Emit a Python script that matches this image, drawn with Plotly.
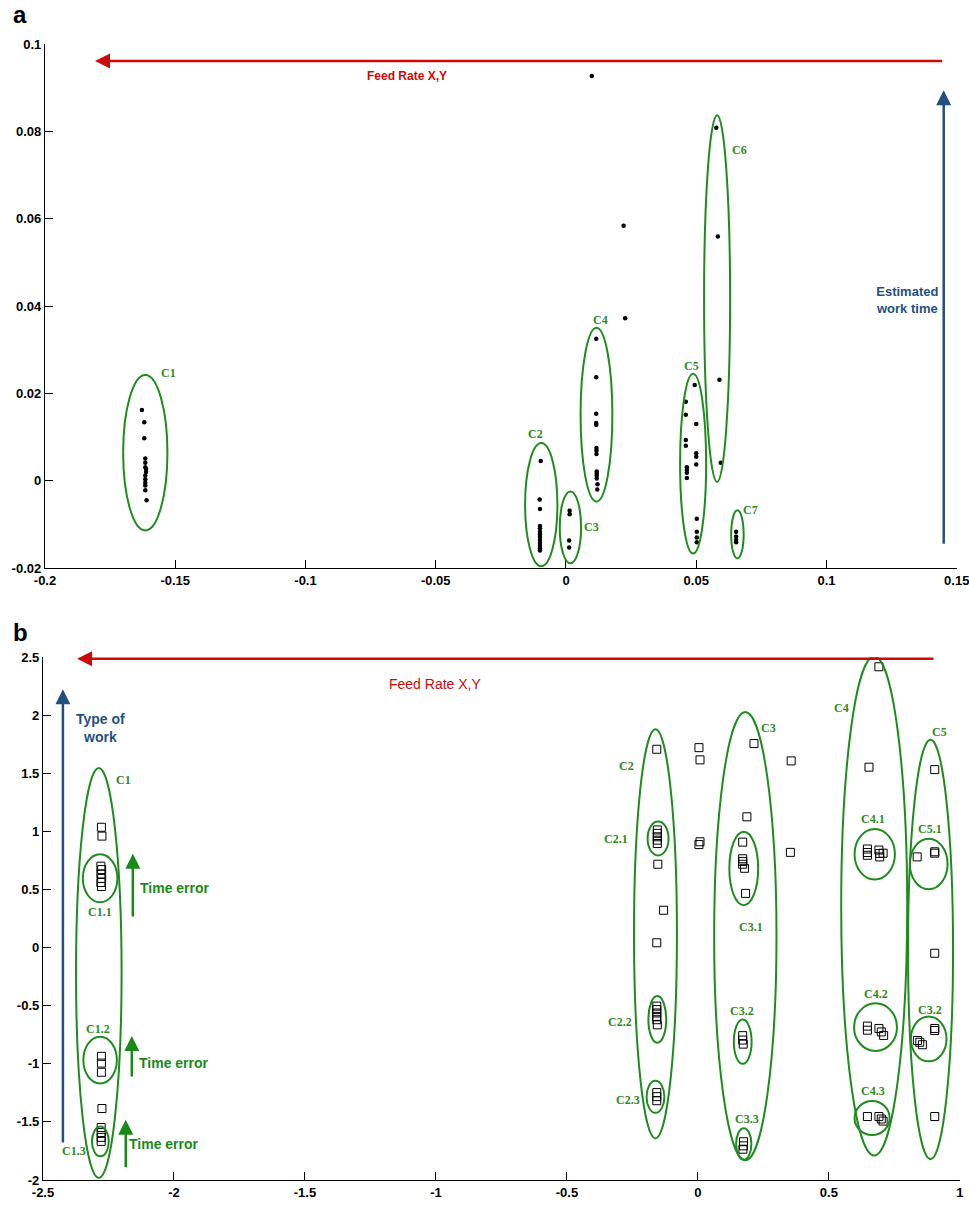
import plotly.graph_objects as go

# ---------------- Panel a data ----------------
a_c1_x = [-0.1628, -0.1619, -0.1619, -0.1615, -0.1615, -0.1615, -0.1612, -0.1612, -0.1615, -0.1615, -0.1615, -0.1615, -0.1615, -0.1610]
a_c1_y = [0.0162, 0.0134, 0.0097, 0.0051, 0.0041, 0.0031, 0.0027, 0.0020, 0.0012, 0.0003, -0.0005, -0.0011, -0.0022, -0.0045]
a_c2_x = [-0.0097, -0.0101, -0.0100, -0.0100, -0.0100, -0.0100, -0.0100, -0.0100, -0.0100, -0.0100, -0.0100, -0.0100, -0.0100]
a_c2_y = [0.0045, -0.0043, -0.0065, -0.0104, -0.0109, -0.0117, -0.0123, -0.0129, -0.0136, -0.0142, -0.0149, -0.0155, -0.0160]
a_c3_x = [0.0014, 0.0014, 0.0012, 0.0012]
a_c3_y = [-0.0069, -0.0077, -0.0137, -0.0153]
a_c4_x = [0.0116, 0.0116, 0.0116, 0.0116, 0.0116, 0.0117, 0.0117, 0.0117, 0.0118, 0.0118, 0.0118, 0.0118, 0.0121, 0.0120]
a_c4_y = [0.0325, 0.0237, 0.0153, 0.0132, 0.0128, 0.0075, 0.0069, 0.0061, 0.0021, 0.0016, 0.0011, 0.0005, -0.0008, -0.0020]
a_c5_x = [0.0494, 0.0460, 0.0460, 0.0500, 0.0460, 0.0460, 0.0500, 0.0500, 0.0500, 0.0464, 0.0464, 0.0464, 0.0464, 0.0502, 0.0502, 0.0502, 0.0502]
a_c5_y = [0.0219, 0.0181, 0.0151, 0.0130, 0.0093, 0.0080, 0.0063, 0.0055, 0.0037, 0.0031, 0.0025, 0.0018, 0.0006, -0.0087, -0.0117, -0.0130, -0.0141]
a_c6_x = [0.0577, 0.0583, 0.0589, 0.0594]
a_c6_y = [0.0808, 0.0559, 0.0231, 0.0041]
a_c7_x = [0.0653, 0.0653, 0.0653, 0.0653]
a_c7_y = [-0.0117, -0.0128, -0.0136, -0.0141]
a_other_x = [0.0099, 0.0221, 0.0227]
a_other_y = [0.0927, 0.0584, 0.0372]

a_clusters = ["C1", "C2", "C3", "C4", "C5", "C6", "C7"]
a_ell_cx = [-0.1615, -0.0095, 0.0017, 0.0117, 0.0488, 0.0580, 0.0658]
a_ell_cy = [0.0064, -0.0055, -0.0107, 0.0151, 0.0039, 0.0417, -0.0123]
a_ell_rx = [0.0085, 0.0062, 0.0041, 0.0061, 0.0050, 0.0050, 0.0024]
a_ell_ry = [0.0178, 0.0141, 0.0082, 0.0199, 0.0206, 0.0420, 0.0055]
a_lab_x = [-0.1525, -0.0116, 0.0096, 0.0133, 0.0483, 0.0665, 0.0707]
a_lab_y = [0.0246, 0.0107, -0.0106, 0.0369, 0.0263, 0.0758, -0.0068]

a_xticks = [-0.2, -0.15, -0.1, -0.05, 0, 0.05, 0.1, 0.15]
a_xticktext = ["-0.2", "-0.15", "-0.1", "-0.05", "0", "0.05", "0.1", "0.15"]
a_yticks = [-0.02, 0, 0.02, 0.04, 0.06, 0.08, 0.1]
a_yticktext = ["-0.02", "0", "0.02", "0.04", "0.06", "0.08", "0.1"]

# ---------------- Panel b data ----------------
b_c1_x = [-2.277, -2.275, -2.279, -2.276, -2.279, -2.276, -2.279, -2.277, -2.277, -2.277, -2.277, -2.275, -2.278, -2.278, -2.278, -2.278]
b_c1_y = [1.035, 0.959, 0.700, 0.671, 0.633, 0.595, 0.560, 0.525, -0.936, -0.994, -1.073, -1.385, -1.548, -1.592, -1.633, -1.668]
b_c2_x = [-0.157, -0.155, -0.155, -0.155, -0.155, -0.155, -0.153, -0.131, -0.157, -0.157, -0.157, -0.157, -0.157, -0.157, -0.155, -0.157, -0.157, -0.157]
b_c2_y = [1.706, 1.012, 0.983, 0.953, 0.924, 0.895, 0.717, 0.321, 0.041, -0.504, -0.534, -0.563, -0.592, -0.621, -0.665, -1.248, -1.283, -1.318]
b_mid_x = [0.004, 0.008, 0.008, 0.004]
b_mid_y = [1.720, 1.615, 0.910, 0.886]
b_c3_x = [0.214, 0.356, 0.187, 0.171, 0.171, 0.171, 0.171, 0.178, 0.182, 0.353, 0.171, 0.171, 0.173, 0.174, 0.174, 0.172]
b_c3_y = [1.755, 1.606, 1.125, 0.907, 0.764, 0.741, 0.717, 0.682, 0.466, 0.819, -0.758, -0.796, -0.831, -1.671, -1.706, -1.735]
b_c4_x = [0.691, 0.653, 0.647, 0.647, 0.647, 0.691, 0.694, 0.694, 0.707, 0.647, 0.647, 0.691, 0.700, 0.709, 0.647, 0.691, 0.700, 0.707]
b_c4_y = [2.416, 1.552, 0.848, 0.818, 0.794, 0.839, 0.809, 0.780, 0.812, -0.676, -0.711, -0.696, -0.726, -0.756, -1.454, -1.454, -1.475, -1.493]
b_c5_x = [0.904, 0.904, 0.904, 0.837, 0.904, 0.904, 0.904, 0.838, 0.847, 0.857, 0.904]
b_c5_y = [1.531, 0.824, 0.812, 0.780, -0.049, -0.696, -0.714, -0.800, -0.815, -0.836, -1.454]

b_clusters = ["C1", "C1.1", "C1.2", "C1.3", "C2", "C2.1", "C2.2", "C2.3",
              "C3", "C3.1", "C3.2", "C3.3", "C4", "C4.1", "C4.2", "C4.3",
              "C5", "C5.1", "C3.2"]
b_ell_cx = [-2.287, -2.282, -2.282, -2.281, -0.162, -0.152, -0.155, -0.162,
            0.181, 0.175, 0.171, 0.175, 0.673, 0.675, 0.678, 0.665,
            0.888, 0.881, 0.881]
b_ell_cy = [-0.219, 0.596, -0.968, -1.668, 0.118, 0.939, -0.618, -1.284,
            0.098, 0.681, -0.810, -1.690, 0.358, 0.803, -0.685, -1.466,
            -0.016, 0.719, -0.786]
b_ell_rx = [0.087, 0.066, 0.064, 0.032, 0.082, 0.040, 0.034, 0.034,
            0.119, 0.055, 0.034, 0.029, 0.126, 0.077, 0.082, 0.067,
            0.086, 0.072, 0.068]
b_ell_ry = [1.764, 0.206, 0.201, 0.128, 1.760, 0.146, 0.201, 0.138,
            1.929, 0.316, 0.190, 0.136, 2.147, 0.217, 0.205, 0.146,
            1.805, 0.218, 0.193]
b_lab_x = [-2.193, -2.281, -2.290, -2.380, -0.271, -0.312, -0.299, -0.267,
           0.271, 0.201, 0.169, 0.188, 0.547, 0.668, 0.681, 0.668,
           0.921, 0.885, 0.885]
b_lab_y = [1.443, 0.303, -0.700, -1.749, 1.560, 0.933, -0.644, -1.312,
           1.892, 0.175, -0.548, -1.472, 2.059, 1.109, -0.399, -1.237,
           1.858, 1.020, -0.533]

b_xticks = [-2.5, -2, -1.5, -1, -0.5, 0, 0.5, 1]
b_xticktext = ["-2.5", "-2", "-1.5", "-1", "-0.5", "0", "0.5", "1"]
b_yticks = [-2, -1.5, -1, -0.5, 0, 0.5, 1, 1.5, 2, 2.5]
b_yticktext = ["-2", "-1.5", "-1", "-0.5", "0", "0.5", "1", "1.5", "2", "2.5"]

# Time error arrows (panel b)
te_x = [-2.157, -2.161, -2.184]
te_tail = [0.254, -1.122, -1.904]
te_tip = [0.808, -0.761, -1.481]
te_text_x = [-2.139, -2.142, -2.178]
te_text_y = [0.516, -0.991, -1.691]

# ---------------- Styles ----------------
W, H = 969, 1213
GREEN = "#1f8c1f"
LABGREEN = "#2f8a22"
RED = "#cc0a0a"
BLUE = "#24507f"
W_px = lambda p: p / W
H_px = lambda p: 1 - p / H

fig = go.Figure()

def add_points(xs, ys, xa, ya, kind):
    if kind == "dot":
        marker = dict(symbol="circle", size=4.5, color="black", line=dict(width=0))
    else:
        marker = dict(symbol="square-open", size=8, color="black", line=dict(width=1, color="black"))
    fig.add_trace(go.Scatter(x=xs, y=ys, mode="markers", marker=marker,
                             xaxis=xa, yaxis=ya, showlegend=False, hoverinfo="skip"))

for xs, ys in [(a_c1_x, a_c1_y), (a_c2_x, a_c2_y), (a_c3_x, a_c3_y), (a_c4_x, a_c4_y),
               (a_c5_x, a_c5_y), (a_c6_x, a_c6_y), (a_c7_x, a_c7_y), (a_other_x, a_other_y)]:
    add_points(xs, ys, "x", "y", "dot")

for xs, ys in [(b_c1_x, b_c1_y), (b_c2_x, b_c2_y), (b_mid_x, b_mid_y), (b_c3_x, b_c3_y),
               (b_c4_x, b_c4_y), (b_c5_x, b_c5_y)]:
    add_points(xs, ys, "x2", "y2", "square")

shapes = []
annotations = []

def add_ellipses(cx, cy, rx, ry, xref, yref):
    for a, b, c, d in zip(cx, cy, rx, ry):
        shapes.append(dict(type="circle", xref=xref, yref=yref,
                           x0=a - c, x1=a + c, y0=b - d, y1=b + d,
                           line=dict(color=GREEN, width=2)))

def add_labels(names, lx, ly, xref, yref):
    for n, a, b in zip(names, lx, ly):
        annotations.append(dict(x=a, y=b, xref=xref, yref=yref, text="<b>%s</b>" % n,
                                showarrow=False, font=dict(family="Liberation Serif, Times New Roman, serif",
                                                           size=12, color=LABGREEN)))

add_ellipses(a_ell_cx, a_ell_cy, a_ell_rx, a_ell_ry, "x", "y")
add_labels(a_clusters, a_lab_x, a_lab_y, "x", "y")
add_ellipses(b_ell_cx, b_ell_cy, b_ell_rx, b_ell_ry, "x2", "y2")
add_labels(b_clusters, b_lab_x, b_lab_y, "x2", "y2")

def arrow(x0, y0, x1, y1, xref, yref, color, width, size=1.0):
    annotations.append(dict(x=x1, y=y1, ax=x0, ay=y0, xref=xref, yref=yref,
                            axref=xref, ayref=yref, text="", showarrow=True,
                            arrowhead=2, arrowsize=size, arrowwidth=width, arrowcolor=color))

def text(x, y, s, xref, yref, color, size, bold=True, xanchor="center", family="Liberation Sans, Arial, sans-serif"):
    annotations.append(dict(x=x, y=y, xref=xref, yref=yref, showarrow=False,
                            text=("<b>%s</b>" % s) if bold else s, xanchor=xanchor,
                            font=dict(family=family, size=size, color=color)))

# Panel a arrows and texts
arrow(0.145, 0.0961, -0.1808, 0.0961, "x", "y", RED, 2.5, 1.2)
text(-0.061, 0.0927, "Feed Rate X,Y", "x", "y", RED, 12)
arrow(0.145, -0.0148, 0.145, 0.0894, "x", "y", BLUE, 2.5, 1.2)
text(0.131, 0.0414, "Estimated<br>work time", "x", "y", BLUE, 13)

# Panel b arrows and texts
arrow(0.905, 2.484, -2.37, 2.484, "x2", "y2", RED, 2.5, 1.2)
text(-1.004, 2.268, "Feed Rate X,Y", "x2", "y2", RED, 14, bold=False)
arrow(-2.424, -1.691, -2.424, 2.222, "x2", "y2", BLUE, 2.5, 1.2)
text(-2.280, 1.886, "Type of<br>work", "x2", "y2", BLUE, 14)
for xx, t0, t1, tx, ty in zip(te_x, te_tail, te_tip, te_text_x, te_text_y):
    arrow(xx, t0, xx, t1, "x2", "y2", "#178a17", 2.5, 1.2)
    text(tx, ty, "Time error", "x2", "y2", "#178a17", 14, xanchor="left")

# Panel letters
annotations.append(dict(x=W_px(20), y=H_px(15), xref="paper", yref="paper", showarrow=False,
                        xanchor="center", yanchor="middle",
                        text="<b>a</b>", font=dict(family="Liberation Sans, Arial", size=24, color="black")))
annotations.append(dict(x=W_px(20), y=H_px(632), xref="paper", yref="paper", showarrow=False,
                        xanchor="center", yanchor="middle",
                        text="<b>b</b>", font=dict(family="Liberation Sans, Arial", size=24, color="black")))

xtickfont = dict(family="Liberation Sans Narrow, Arial Narrow, Liberation Sans, Arial", size=13, color="black", weight="bold")
ytickfont = dict(family="Liberation Sans, Arial", size=13, color="black", weight="bold")
axis_common = dict(showline=True, linecolor="black", linewidth=1.3, ticks="inside", ticklen=8,
                   tickcolor="black", tickwidth=1.3, showgrid=False, zeroline=False, mirror=False,
                   automargin=False, ticklabeloverflow="allow")

fig.update_layout(
    width=W, height=H, autosize=False, margin=dict(l=0, r=0, t=0, b=0, pad=0),
    paper_bgcolor="white", plot_bgcolor="white", showlegend=False,
    xaxis=dict(domain=[W_px(45), W_px(957)], range=[-0.2, 0.1501], anchor="y",
               tickvals=a_xticks, ticktext=a_xticktext, tickfont=xtickfont, **axis_common),
    yaxis=dict(domain=[H_px(568), H_px(44)], range=[-0.02, 0.1], anchor="x",
               tickvals=a_yticks, ticktext=a_yticktext, tickfont=ytickfont, **axis_common),
    xaxis2=dict(domain=[W_px(43), W_px(960)], range=[-2.5, 1.0005], anchor="y2",
                tickvals=b_xticks, ticktext=b_xticktext, tickfont=xtickfont, **axis_common),
    yaxis2=dict(domain=[H_px(1180), H_px(657)], range=[-2, 2.5], anchor="x2",
                tickvals=b_yticks, ticktext=b_yticktext, tickfont=ytickfont, **axis_common),
    shapes=shapes, annotations=annotations,
)

fig.write_html("out.html", config={"responsive": False, "displayModeBar": False},
               post_script="document.body.style.margin='0px';document.body.style.overflow='hidden';")
